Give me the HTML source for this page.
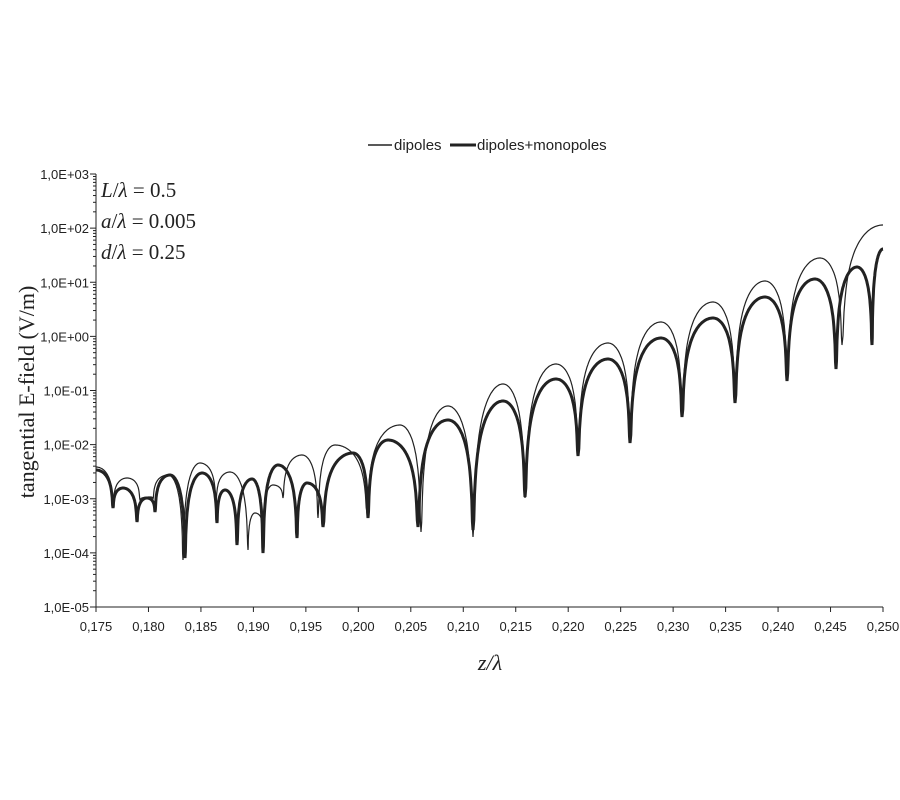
<!DOCTYPE html>
<html><head><meta charset="utf-8"><style>
body{margin:0;background:#fff;width:900px;height:800px;overflow:hidden}
svg{display:block}
.s{font-family:"Liberation Sans",sans-serif}
.r{font-family:"Liberation Serif",serif}
</style></head><body>
<svg id="s" width="900" height="800" xmlns="http://www.w3.org/2000/svg">
<g stroke="#222" fill="none">
<line x1="368" y1="145" x2="392" y2="145" stroke-width="1.5"/>
<line x1="450" y1="145" x2="476" y2="145" stroke-width="3"/>
</g>
<text class="s" x="394" y="150" font-size="15" fill="#222">dipoles</text>
<text class="s" x="477" y="150" font-size="15" fill="#222">dipoles+monopoles</text>
<g class="r" font-size="21" fill="#222">
<text class="r" x="101" y="197"><tspan font-style="italic">L</tspan>/<tspan font-style="italic">λ</tspan> = 0.5</text>
<text class="r" x="101" y="228"><tspan font-style="italic">a</tspan>/<tspan font-style="italic">λ</tspan> = 0.005</text>
<text class="r" x="101" y="259"><tspan font-style="italic">d</tspan>/<tspan font-style="italic">λ</tspan> = 0.25</text>
</g>
<text class="r" transform="translate(34,392) rotate(-90)" text-anchor="middle" font-size="22" fill="#222">tangential E-field (V/m)</text>
<text class="r" x="490" y="670" text-anchor="middle" font-size="22" font-style="italic" fill="#222">z/λ</text>
<g id="ax" stroke="#222" stroke-width="1" fill="none"></g>
<g id="lbl" class="s" font-size="13" fill="#222"></g>
<path id="thin" fill="none" stroke="#222" stroke-width="1.2"/>
<path id="thick" fill="none" stroke="#222" stroke-width="3"/>
</svg>
<script>
var NS="http://www.w3.org/2000/svg";
var ax=document.getElementById('ax'),lbl=document.getElementById('lbl');
function ln(x1,y1,x2,y2){var l=document.createElementNS(NS,'line');l.setAttribute('x1',x1);l.setAttribute('y1',y1);l.setAttribute('x2',x2);l.setAttribute('y2',y2);ax.appendChild(l);}
function tx(x,y,t,a){var e=document.createElementNS(NS,'text');e.setAttribute('x',x);e.setAttribute('y',y);e.setAttribute('text-anchor',a);e.textContent=t;lbl.appendChild(e);}
var X0=96,X1=883,Y0=174,Y1=607,D=(Y1-Y0)/8;
ln(X0,Y0,X0,Y1);ln(X0,Y1,X1,Y1);
var labs=["1,0E+03","1,0E+02","1,0E+01","1,0E+00","1,0E-01","1,0E-02","1,0E-03","1,0E-04","1,0E-05"];
for(var i=0;i<=8;i++){var y=Y0+i*D;ln(X0-6,y,X0,y);tx(89,y+5,labs[i],'end');
 if(i<8)for(var k=2;k<10;k++){var yy=Y0+(i+1)*D-Math.log10(k)*D;ln(X0-3,yy,X0,yy);}}
for(var j=0;j<=15;j++){var x=X0+j*(X1-X0)/15;ln(x,Y1,x,Y1+5);tx(x,Y1+24,"0,"+(175+5*j),'middle');}
var L=Math.log10(0.03);
function f(t){var s=Math.sin(Math.PI*t);var v=Math.log10(Math.max(s,1e-6))/L;return Math.min(v,1);}
function build(pts){
 var d="M"+pts[0][0]+","+pts[0][1];
 for(var i=0;i<pts.length-1;i++){var A=pts[i],B=pts[i+1];var up=B[1]<A[1];
  var N=40;for(var n=1;n<=N;n++){var u=n/N,x=A[0]+(B[0]-A[0])*u,y;
   if(up){y=B[1]+(A[1]-B[1])*f(0.5*u);}
   else{y=A[1]+(B[1]-A[1])*f(0.5*(1-u));}
   d+=" L"+x.toFixed(1)+","+y.toFixed(1);}}
 return d;}
var thick=[[96,470],[113,508],[123,488],[137,522],[147,498],[155,512],[170,475],[185,558],[202,473],[217,523],[225,490],[237,545],[252,479],[263,553],[278,465],[297,538],[307,483],[323,527],[353,453],[368,518],[388,440],[418,527],[448,420],[473,530],[503,401],[525,497],[556,379],[578,456],[608,359],[630,443],[661,338],[682,417],[713,318],[735,403],[765,297],[787,381],[815,279],[836,369],[857,267],[872,345],[883,249]];
var thin=[[96,467],[113,505],[127,478],[140,500],[150,497],[153,499],[168,475],[183,560],[200,463],[216,502],[230,472],[248,550],[255,513],[263,530],[273,485],[283,498],[302,455],[318,518],[335,445],[367,513],[400,425],[421,532],[448,406],[473,537],[503,384],[525,498],[556,364],[578,450],[608,343],[630,437],[661,322],[682,413],[713,302],[735,397],[765,281],[787,377],[820,258],[842,345],[883,225]];
document.getElementById('thick').setAttribute('d',build(thick));
document.getElementById('thin').setAttribute('d',build(thin));
</script>
</body></html>
